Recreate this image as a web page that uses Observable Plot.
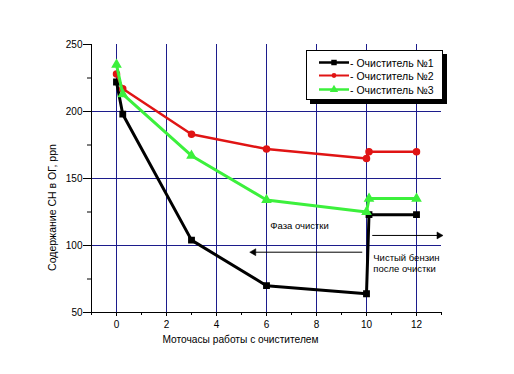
<!DOCTYPE html>
<html><head><meta charset="utf-8">
<script src="https://cdn.jsdelivr.net/npm/d3@7"></script>
<script src="https://cdn.jsdelivr.net/npm/@observablehq/plot@0.6"></script>
<style>
body{margin:0;background:#fff;font-family:"Liberation Sans",Arial,sans-serif}
#wrap{position:relative;width:514px;height:374px}
#legend{position:absolute;left:306px;top:50px;width:137px;height:50px;box-sizing:border-box;border:1px solid #000;background:#fff;box-shadow:4px 4px 0 #000}
</style>
</head><body><div id="wrap"></div>
<script>
const seriesNames = ["Очиститель №1", "Очиститель №2", "Очиститель №3"];
const hours1 = [0, 0.25, 3, 6, 10, 10.1, 12];
const values1 = [222, 198, 104, 70, 64, 123, 123];
const hours2 = [0, 0.25, 3, 6, 10, 10.1, 12];
const values2 = [228, 217, 183, 172, 165, 170, 170];
const hours3 = [0, 0.25, 3, 6, 10, 10.1, 12];
const values3 = [235, 213, 167, 134, 125, 135, 135];
const xTicks = [0, 2, 4, 6, 8, 10, 12];
const xMinorTicks = [-1, 1, 3, 5, 7, 9, 11, 13];
const yTicks = [50, 100, 150, 200, 250];
const yMinorTicks = [75, 125, 175, 225];
const hGrid = [100, 150, 200];
const xLabel = "Моточасы работы с очистителем";
const yLabel = "Содержание СН в ОГ, ppn";
const noteTexts = ["Фаза очистки", "Чистый бензин", "после очистки"];
const noteX = [6.15, 10.27, 10.27];
const noteY = [114.5, 91, 82.6];
const arrowFromX = [9.83, 10.23];
const arrowToX = [5.49, 12.9];
const arrowY = [95, 107.5];
const arrowDir = [-90, 90];

const colors = ["#000000", "#e01414", "#3cf03c"];
const symbols = ["square", "circle", "triangle"];
const widths = [3, 2.5, 3];

const rows = [];
[[hours1, values1], [hours2, values2], [hours3, values3]].forEach(([h, v], i) =>
  h.forEach((x, j) => rows.push({series: seriesNames[i], x, y: v[j]})));
const notes = noteTexts.map((t, i) => ({t, x: noteX[i], y: noteY[i]}));
const arrows = arrowFromX.map((x1, i) => ({x1, x2: arrowToX[i], y: arrowY[i], dir: arrowDir[i]}));

const grid = "#1c1c8c";
const font = "'Liberation Sans', Arial, sans-serif";
const marks = [
  Plot.ruleX(xTicks, {x: d => d, y1: 50, y2: 250, stroke: grid, strokeWidth: 1}),
  Plot.ruleY(hGrid, {y: d => d, x1: -1, x2: 13, stroke: grid, strokeWidth: 1}),
  Plot.ruleX([-1], {x: d => d, stroke: "black"}),
  Plot.ruleY([50], {y: d => d, stroke: "black"}),
  Plot.axisX({ticks: xTicks, tickSize: 4, tickPadding: 4, label: null, fontSize: 10}),
  Plot.axisX({ticks: xMinorTicks, tickSize: 3, tickFormat: () => "", label: null}),
  Plot.axisY({ticks: yTicks, tickSize: 8, tickPadding: 1, label: null, fontSize: 10}),
  Plot.axisY({ticks: yMinorTicks, tickSize: 4, tickFormat: () => "", label: null}),
  Plot.link(arrows, {x1: "x1", x2: "x2", y1: "y", y2: "y", stroke: "black", strokeWidth: 1}),
  Plot.dot(arrows, {x: "x2", y: "y", symbol: "triangle", rotate: "dir", r: 2.6, fill: "black", stroke: "black", strokeWidth: 0.5}),
  Plot.text(notes, {x: "x", y: "y", text: "t", textAnchor: "start", fontSize: 9.5, fill: "black"}),
  Plot.text([xLabel], {frameAnchor: "bottom", textAnchor: "middle", lineAnchor: "middle", dx: -26, dy: 27, fontSize: 10.2, fill: "black"}),
  Plot.text([yLabel], {frameAnchor: "left", textAnchor: "middle", lineAnchor: "middle", dx: -39, dy: 29, rotate: -90, fontSize: 10.5, fill: "black"})
];
seriesNames.forEach((s, i) => {
  const d = rows.filter(r => r.series === s);
  marks.push(Plot.line(d, {x: "x", y: "y", stroke: colors[i], strokeWidth: widths[i]}));
  marks.push(Plot.dot(d, {x: "x", y: "y", symbol: () => symbols[i], fill: colors[i], stroke: colors[i], r: 3}));
});

const chart = Plot.plot({
  width: 514, height: 374,
  marginLeft: 91, marginRight: 73, marginTop: 44, marginBottom: 62,
  x: {domain: [-1, 13]},
  y: {domain: [50, 250]},
  symbol: {type: "identity"},
  style: {fontFamily: font, fontSize: "11px", color: "black", background: "white"},
  marks
});
const wrap = document.getElementById("wrap");
wrap.appendChild(chart);

// legend overlay
const leg = d3.select(wrap).append("div").attr("id", "legend");
const svg = leg.append("svg").attr("width", 135).attr("height", 48);
seriesNames.forEach((s, i) => {
  const y = [11.5, 24.5, 38.5][i];
  svg.append("line").attr("x1", 12).attr("x2", 42).attr("y1", y).attr("y2", y)
    .attr("stroke", colors[i]).attr("stroke-width", widths[i] - 0.5);
  const sym = d3.symbol().type([d3.symbolSquare, d3.symbolCircle, d3.symbolTriangle][i]).size(i === 1 ? 18 : 30);
  svg.append("path").attr("d", sym()).attr("transform", `translate(27,${y})`).attr("fill", colors[i]);
  svg.append("text").attr("x", 43).attr("y", y + 4).attr("font-size", 10.5)
    .attr("font-family", font).text("- " + s);
});
</script>
</body></html>
